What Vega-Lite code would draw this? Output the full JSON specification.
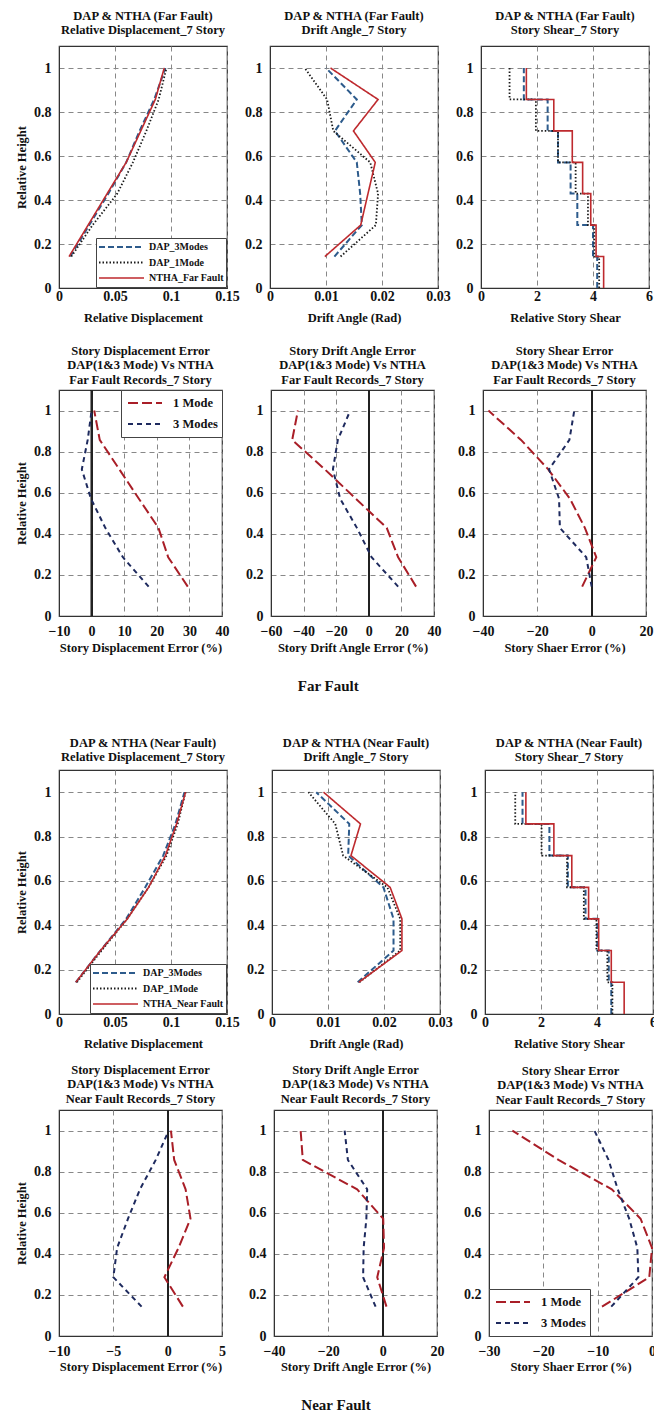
{
"$schema":"https://vega.github.io/schema/vega-lite/v6.json",
"padding":{"left":14,"top":8,"right":0,"bottom":0},
"background":"white",
"spacing":40,
"resolve":{"scale":{"color":"independent","strokeDash":"independent","strokeWidth":"independent"}},
"config":{
 "font":"Liberation Serif",
 "view":{"stroke":"#333","strokeWidth":1.2},
 "axis":{"labelFont":"Liberation Serif","labelFontWeight":"bold","labelFontSize":14,"labelColor":"#111","titleFont":"Liberation Serif","titleFontWeight":"bold","titleFontSize":12.5,"titleColor":"#111","grid":true,"gridDash":[5,4],"gridColor":"#888","gridWidth":1,"ticks":false,"domainColor":"#333","labelOverlap":false,"labelFlush":false,"format":"~f"},
 "axisX":{"labelOverlap":false},
 "axisY":{"labelPadding":8,"titlePadding":5},
 "title":{"font":"Liberation Serif","fontWeight":"bold","fontSize":12.5,"color":"#111","lineHeight":14,"anchor":"middle"},
 "legend":{"labelFont":"Liberation Serif","labelFontWeight":"bold","labelColor":"#111","fillColor":"white","strokeColor":"#444","symbolType":"stroke"}
},
"vconcat":[
{
 "title":{"text":"Far Fault","orient":"bottom","fontSize":15,"offset":25,"dx":-6},
 "spacing":19,
 "resolve":{"scale":{"color":"independent","strokeDash":"independent","strokeWidth":"independent"}},
 "vconcat":[
 {
  "bounds":"flush","spacing":43,
  "resolve":{"scale":{"color":"independent","strokeDash":"independent","strokeWidth":"independent"}},
  "hconcat":[
  {
   "width":168,"height":242,
   "title":{"text":["DAP & NTHA (Far Fault)","Relative Displacement_7 Story"],"offset":10},
   "data":{"values":[
    {"h":0.143,"v":0.010,"s":"DAP_3Modes"},{"h":0.286,"v":0.027,"s":"DAP_3Modes"},{"h":0.429,"v":0.044,"s":"DAP_3Modes"},{"h":0.571,"v":0.060,"s":"DAP_3Modes"},{"h":0.714,"v":0.072,"s":"DAP_3Modes"},{"h":0.857,"v":0.085,"s":"DAP_3Modes"},{"h":1,"v":0.095,"s":"DAP_3Modes"},
    {"h":0.143,"v":0.011,"s":"DAP_1Mode"},{"h":0.286,"v":0.030,"s":"DAP_1Mode"},{"h":0.429,"v":0.052,"s":"DAP_1Mode"},{"h":0.571,"v":0.066,"s":"DAP_1Mode"},{"h":0.714,"v":0.078,"s":"DAP_1Mode"},{"h":0.857,"v":0.089,"s":"DAP_1Mode"},{"h":1,"v":0.096,"s":"DAP_1Mode"},
    {"h":0.143,"v":0.009,"s":"NTHA_Far Fault"},{"h":0.286,"v":0.026,"s":"NTHA_Far Fault"},{"h":0.429,"v":0.043,"s":"NTHA_Far Fault"},{"h":0.571,"v":0.060,"s":"NTHA_Far Fault"},{"h":0.714,"v":0.073,"s":"NTHA_Far Fault"},{"h":0.857,"v":0.086,"s":"NTHA_Far Fault"},{"h":1,"v":0.094,"s":"NTHA_Far Fault"}
   ]},
   "mark":{"type":"line"},
   "encoding":{
    "x":{"field":"v","type":"quantitative","scale":{"domain":[0,0.15],"nice":false,"zero":false},"axis":{"values":[0,0.05,0.1,0.15],"title":"Relative Displacement","labelPadding":1,"titlePadding":8,"labelOverlap":false}},
    "y":{"field":"h","type":"quantitative","scale":{"domain":[0,1.1],"nice":false},"axis":{"values":[0,0.2,0.4,0.6,0.8,1],"title":"Relative Height"}},
    "order":{"field":"h","type":"quantitative"},
    "color":{"field":"s","type":"nominal","scale":{"domain":["DAP_3Modes","DAP_1Mode","NTHA_Far Fault"],"range":["#2D5B8C","#1a1a1a","#BE2A2E"]},"legend":{"title":null,"orient":"bottom-right","offset":1,"padding":2,"clipHeight":14,"rowPadding":1.5,"symbolSize":2025,"symbolOffset":0,"labelOffset":4,"labelFontSize":10}},
    "strokeDash":{"field":"s","type":"nominal","scale":{"domain":["DAP_3Modes","DAP_1Mode","NTHA_Far Fault"],"range":[[6,3],[1.5,2],[1,0]]},"legend":{"title":null,"orient":"bottom-right","offset":1,"padding":2,"clipHeight":14,"rowPadding":1.5,"symbolSize":2025,"symbolOffset":0,"labelOffset":4,"labelFontSize":10}},
    "strokeWidth":{"field":"s","type":"nominal","scale":{"domain":["DAP_3Modes","DAP_1Mode","NTHA_Far Fault"],"range":[2,1.6,2.2]},"legend":{"title":null,"orient":"bottom-right","offset":1,"padding":2,"clipHeight":14,"rowPadding":1.5,"symbolSize":2025,"symbolOffset":0,"labelOffset":4,"labelFontSize":10}}
   }
  },
  {
   "width":168,"height":242,
   "title":{"text":["DAP & NTHA (Far Fault)","Drift Angle_7 Story"],"offset":10},
   "data":{"values":[
    {"h":0.143,"v":0.0115,"s":"DAP_3Modes"},{"h":0.286,"v":0.0164,"s":"DAP_3Modes"},{"h":0.429,"v":0.0161,"s":"DAP_3Modes"},{"h":0.571,"v":0.0155,"s":"DAP_3Modes"},{"h":0.714,"v":0.0116,"s":"DAP_3Modes"},{"h":0.857,"v":0.0155,"s":"DAP_3Modes"},{"h":1,"v":0.0100,"s":"DAP_3Modes"},
    {"h":0.143,"v":0.0126,"s":"DAP_1Mode"},{"h":0.286,"v":0.0189,"s":"DAP_1Mode"},{"h":0.429,"v":0.0193,"s":"DAP_1Mode"},{"h":0.571,"v":0.0179,"s":"DAP_1Mode"},{"h":0.714,"v":0.0113,"s":"DAP_1Mode"},{"h":0.857,"v":0.0102,"s":"DAP_1Mode"},{"h":1,"v":0.0062,"s":"DAP_1Mode"},
    {"h":0.143,"v":0.0098,"s":"NTHA_Far Fault"},{"h":0.286,"v":0.0162,"s":"NTHA_Far Fault"},{"h":0.429,"v":0.0175,"s":"NTHA_Far Fault"},{"h":0.571,"v":0.0188,"s":"NTHA_Far Fault"},{"h":0.714,"v":0.0149,"s":"NTHA_Far Fault"},{"h":0.857,"v":0.0193,"s":"NTHA_Far Fault"},{"h":1,"v":0.0108,"s":"NTHA_Far Fault"}
   ]},
   "mark":{"type":"line"},
   "encoding":{
    "x":{"field":"v","type":"quantitative","scale":{"domain":[0,0.03],"nice":false,"zero":false},"axis":{"values":[0,0.01,0.02,0.03],"title":"Drift Angle (Rad)","labelPadding":1,"titlePadding":8,"labelOverlap":false}},
    "y":{"field":"h","type":"quantitative","scale":{"domain":[0,1.1],"nice":false},"axis":{"values":[0,0.2,0.4,0.6,0.8,1],"title":null}},
    "order":{"field":"h","type":"quantitative"},
    "color":{"field":"s","type":"nominal","scale":{"domain":["DAP_3Modes","DAP_1Mode","NTHA_Far Fault"],"range":["#2D5B8C","#1a1a1a","#BE2A2E"]},"legend":null},
    "strokeDash":{"field":"s","type":"nominal","scale":{"domain":["DAP_3Modes","DAP_1Mode","NTHA_Far Fault"],"range":[[6,3],[1.5,2],[1,0]]},"legend":null},
    "strokeWidth":{"field":"s","type":"nominal","scale":{"domain":["DAP_3Modes","DAP_1Mode","NTHA_Far Fault"],"range":[2,1.6,2.2]},"legend":null}
   }
  },
  {
   "width":168,"height":242,
   "title":{"text":["DAP & NTHA (Far Fault)","Story Shear_7 Story"],"offset":10},
   "data":{"values":[
    {"h":0,"v":4.15,"s":"DAP_3Modes"},{"h":0.143,"v":4.15,"s":"DAP_3Modes"},{"h":0.286,"v":4.0,"s":"DAP_3Modes"},{"h":0.429,"v":3.44,"s":"DAP_3Modes"},{"h":0.571,"v":3.2,"s":"DAP_3Modes"},{"h":0.714,"v":2.75,"s":"DAP_3Modes"},{"h":0.857,"v":2.38,"s":"DAP_3Modes"},{"h":1,"v":1.53,"s":"DAP_3Modes"},
    {"h":0,"v":4.22,"s":"DAP_1Mode"},{"h":0.143,"v":4.22,"s":"DAP_1Mode"},{"h":0.286,"v":4.05,"s":"DAP_1Mode"},{"h":0.429,"v":3.82,"s":"DAP_1Mode"},{"h":0.571,"v":3.38,"s":"DAP_1Mode"},{"h":0.714,"v":2.75,"s":"DAP_1Mode"},{"h":0.857,"v":1.96,"s":"DAP_1Mode"},{"h":1,"v":1.02,"s":"DAP_1Mode"},
    {"h":0,"v":4.38,"s":"NTHA_Far Fault"},{"h":0.143,"v":4.38,"s":"NTHA_Far Fault"},{"h":0.286,"v":4.11,"s":"NTHA_Far Fault"},{"h":0.429,"v":3.92,"s":"NTHA_Far Fault"},{"h":0.571,"v":3.63,"s":"NTHA_Far Fault"},{"h":0.714,"v":3.26,"s":"NTHA_Far Fault"},{"h":0.857,"v":2.6,"s":"NTHA_Far Fault"},{"h":1,"v":1.62,"s":"NTHA_Far Fault"}
   ]},
   "mark":{"type":"line","interpolate":"step-after"},
   "encoding":{
    "x":{"field":"v","type":"quantitative","scale":{"domain":[0,6],"nice":false,"zero":false},"axis":{"values":[0,2,4,6],"title":"Relative Story Shear","labelPadding":1,"titlePadding":8,"labelOverlap":false}},
    "y":{"field":"h","type":"quantitative","scale":{"domain":[0,1.1],"nice":false},"axis":{"values":[0,0.2,0.4,0.6,0.8,1],"title":null}},
    "order":{"field":"h","type":"quantitative"},
    "color":{"field":"s","type":"nominal","scale":{"domain":["DAP_3Modes","DAP_1Mode","NTHA_Far Fault"],"range":["#2D5B8C","#1a1a1a","#BE2A2E"]},"legend":null},
    "strokeDash":{"field":"s","type":"nominal","scale":{"domain":["DAP_3Modes","DAP_1Mode","NTHA_Far Fault"],"range":[[6,3],[1.5,2],[1,0]]},"legend":null},
    "strokeWidth":{"field":"s","type":"nominal","scale":{"domain":["DAP_3Modes","DAP_1Mode","NTHA_Far Fault"],"range":[2,1.6,2.2]},"legend":null}
   }
  }
  ]
 },
 {
  "bounds":"flush","spacing":49,
  "resolve":{"scale":{"color":"independent","strokeDash":"independent","strokeWidth":"independent"}},
  "hconcat":[
  {
   "width":163,"height":226,
   "title":{"text":["Story Displacement Error","DAP(1&3 Mode) Vs NTHA","Far Fault Records_7 Story"],"offset":3,"lineHeight":14.5},
   "data":{"values":[
    {"h":0.143,"v":29.5,"s":"1 Mode"},{"h":0.286,"v":23.5,"s":"1 Mode"},{"h":0.429,"v":20.5,"s":"1 Mode"},{"h":0.571,"v":14.5,"s":"1 Mode"},{"h":0.714,"v":8.5,"s":"1 Mode"},{"h":0.857,"v":2.5,"s":"1 Mode"},{"h":1,"v":0.8,"s":"1 Mode"},
    {"h":0.143,"v":17.5,"s":"3 Modes"},{"h":0.286,"v":9.6,"s":"3 Modes"},{"h":0.429,"v":4.2,"s":"3 Modes"},{"h":0.571,"v":-0.2,"s":"3 Modes"},{"h":0.714,"v":-3,"s":"3 Modes"},{"h":0.857,"v":-1.2,"s":"3 Modes"},{"h":1,"v":0,"s":"3 Modes"}
   ]},
   "layer":[
    {"mark":{"type":"rule","color":"#222","strokeWidth":1.3},"encoding":{"x":{"datum":0,"type":"quantitative","axis":{"values":[-10,0,10,20,30,40],"title":"Story Displacement Error (%)","labelPadding":8,"titlePadding":3,"labelOverlap":false}}}},
    {"mark":{"type":"line"},
     "encoding":{
      "x":{"field":"v","type":"quantitative","scale":{"domain":[-10,40],"nice":false,"zero":false},"axis":{"values":[-10,0,10,20,30,40],"title":"Story Displacement Error (%)","labelPadding":8,"titlePadding":3,"labelOverlap":false}},
      "y":{"field":"h","type":"quantitative","scale":{"domain":[0,1.1],"nice":false},"axis":{"values":[0,0.2,0.4,0.6,0.8,1],"title":"Relative Height"}},
      "order":{"field":"h","type":"quantitative"},
      "color":{"field":"s","type":"nominal","scale":{"domain":["1 Mode","3 Modes"],"range":["#A91E27","#1E2A5E"]},"legend":{"title":null,"orient":"top-right","offset":0,"padding":4,"clipHeight":18,"rowPadding":3,"symbolSize":1156,"symbolOffset":2,"labelOffset":10,"labelFontSize":12.5}},
      "strokeDash":{"field":"s","type":"nominal","scale":{"domain":["1 Mode","3 Modes"],"range":[[10,4],[5,4]]},"legend":{"title":null,"orient":"top-right","offset":0,"padding":4,"clipHeight":18,"rowPadding":3,"symbolSize":1156,"symbolOffset":2,"labelOffset":10,"labelFontSize":12.5}},
      "strokeWidth":{"field":"s","type":"nominal","scale":{"domain":["1 Mode","3 Modes"],"range":[2,2]},"legend":{"title":null,"orient":"top-right","offset":0,"padding":4,"clipHeight":18,"rowPadding":3,"symbolSize":1156,"symbolOffset":2,"labelOffset":10,"labelFontSize":12.5}}
     }}
   ]
  },
  {
   "width":163,"height":226,
   "title":{"text":["Story Drift Angle Error","DAP(1&3 Mode) Vs NTHA","Far Fault Records_7 Story"],"offset":3,"lineHeight":14.5},
   "data":{"values":[
    {"h":0.143,"v":29,"s":"1 Mode"},{"h":0.286,"v":18,"s":"1 Mode"},{"h":0.429,"v":11,"s":"1 Mode"},{"h":0.571,"v":-8,"s":"1 Mode"},{"h":0.714,"v":-27,"s":"1 Mode"},{"h":0.857,"v":-47,"s":"1 Mode"},{"h":1,"v":-43.5,"s":"1 Mode"},
    {"h":0.143,"v":18,"s":"3 Modes"},{"h":0.286,"v":1.7,"s":"3 Modes"},{"h":0.429,"v":-7.3,"s":"3 Modes"},{"h":0.571,"v":-17.6,"s":"3 Modes"},{"h":0.714,"v":-22,"s":"3 Modes"},{"h":0.857,"v":-19,"s":"3 Modes"},{"h":1,"v":-11.4,"s":"3 Modes"}
   ]},
   "layer":[
    {"mark":{"type":"rule","color":"#222","strokeWidth":1.3},"encoding":{"x":{"datum":0,"type":"quantitative","axis":{"values":[-60,-40,-20,0,20,40],"title":"Story Drift Angle Error (%)","labelPadding":8,"titlePadding":3,"labelOverlap":false}}}},
    {"mark":{"type":"line"},
     "encoding":{
      "x":{"field":"v","type":"quantitative","scale":{"domain":[-60,40],"nice":false,"zero":false},"axis":{"values":[-60,-40,-20,0,20,40],"title":"Story Drift Angle Error (%)","labelPadding":8,"titlePadding":3,"labelOverlap":false}},
      "y":{"field":"h","type":"quantitative","scale":{"domain":[0,1.1],"nice":false},"axis":{"values":[0,0.2,0.4,0.6,0.8,1],"title":null}},
      "order":{"field":"h","type":"quantitative"},
      "color":{"field":"s","type":"nominal","scale":{"domain":["1 Mode","3 Modes"],"range":["#A91E27","#1E2A5E"]},"legend":null},
      "strokeDash":{"field":"s","type":"nominal","scale":{"domain":["1 Mode","3 Modes"],"range":[[10,4],[5,4]]},"legend":null},
      "strokeWidth":{"field":"s","type":"nominal","scale":{"domain":["1 Mode","3 Modes"],"range":[2,2]},"legend":null}
     }}
   ]
  },
  {
   "width":163,"height":226,
   "title":{"text":["Story Shear Error","DAP(1&3 Mode) Vs NTHA","Far Fault Records_7 Story"],"offset":3,"lineHeight":14.5},
   "data":{"values":[
    {"h":0.143,"v":-3.5,"s":"1 Mode"},{"h":0.286,"v":1.7,"s":"1 Mode"},{"h":0.429,"v":-2.5,"s":"1 Mode"},{"h":0.571,"v":-8,"s":"1 Mode"},{"h":0.714,"v":-16,"s":"1 Mode"},{"h":0.857,"v":-26,"s":"1 Mode"},{"h":1,"v":-38,"s":"1 Mode"},
    {"h":0.143,"v":0,"s":"3 Modes"},{"h":0.286,"v":-2,"s":"3 Modes"},{"h":0.429,"v":-11.7,"s":"3 Modes"},{"h":0.571,"v":-12,"s":"3 Modes"},{"h":0.714,"v":-15.7,"s":"3 Modes"},{"h":0.857,"v":-8.2,"s":"3 Modes"},{"h":1,"v":-6.4,"s":"3 Modes"}
   ]},
   "layer":[
    {"mark":{"type":"rule","color":"#222","strokeWidth":1.3},"encoding":{"x":{"datum":0,"type":"quantitative","axis":{"values":[-40,-20,0,20],"title":"Story Shaer Error (%)","labelPadding":8,"titlePadding":3,"labelOverlap":false}}}},
    {"mark":{"type":"line"},
     "encoding":{
      "x":{"field":"v","type":"quantitative","scale":{"domain":[-40,20],"nice":false,"zero":false},"axis":{"values":[-40,-20,0,20],"title":"Story Shaer Error (%)","labelPadding":8,"titlePadding":3,"labelOverlap":false}},
      "y":{"field":"h","type":"quantitative","scale":{"domain":[0,1.1],"nice":false},"axis":{"values":[0,0.2,0.4,0.6,0.8,1],"title":null}},
      "order":{"field":"h","type":"quantitative"},
      "color":{"field":"s","type":"nominal","scale":{"domain":["1 Mode","3 Modes"],"range":["#A91E27","#1E2A5E"]},"legend":null},
      "strokeDash":{"field":"s","type":"nominal","scale":{"domain":["1 Mode","3 Modes"],"range":[[10,4],[5,4]]},"legend":null},
      "strokeWidth":{"field":"s","type":"nominal","scale":{"domain":["1 Mode","3 Modes"],"range":[2,2]},"legend":null}
     }}
   ]
  }
  ]
 }
 ]
},
{
 "title":{"text":"Near Fault","orient":"bottom","fontSize":15,"offset":25},
 "spacing":12,
 "resolve":{"scale":{"color":"independent","strokeDash":"independent","strokeWidth":"independent"}},
 "vconcat":[
 {
  "bounds":"flush","spacing":45,
  "resolve":{"scale":{"color":"independent","strokeDash":"independent","strokeWidth":"independent"}},
  "hconcat":[
  {
   "width":168,"height":244,
   "title":{"text":["DAP & NTHA (Near Fault)","Relative Displacement_7 Story"],"offset":7},
   "data":{"values":[
    {"h":0.143,"v":0.015,"s":"DAP_3Modes"},{"h":0.286,"v":0.037,"s":"DAP_3Modes"},{"h":0.429,"v":0.060,"s":"DAP_3Modes"},{"h":0.571,"v":0.077,"s":"DAP_3Modes"},{"h":0.714,"v":0.093,"s":"DAP_3Modes"},{"h":0.857,"v":0.104,"s":"DAP_3Modes"},{"h":1,"v":0.112,"s":"DAP_3Modes"},
    {"h":0.143,"v":0.016,"s":"DAP_1Mode"},{"h":0.286,"v":0.038,"s":"DAP_1Mode"},{"h":0.429,"v":0.061,"s":"DAP_1Mode"},{"h":0.571,"v":0.080,"s":"DAP_1Mode"},{"h":0.714,"v":0.096,"s":"DAP_1Mode"},{"h":0.857,"v":0.106,"s":"DAP_1Mode"},{"h":1,"v":0.113,"s":"DAP_1Mode"},
    {"h":0.143,"v":0.015,"s":"NTHA_Near Fault"},{"h":0.286,"v":0.037,"s":"NTHA_Near Fault"},{"h":0.429,"v":0.061,"s":"NTHA_Near Fault"},{"h":0.571,"v":0.080,"s":"NTHA_Near Fault"},{"h":0.714,"v":0.095,"s":"NTHA_Near Fault"},{"h":0.857,"v":0.105,"s":"NTHA_Near Fault"},{"h":1,"v":0.113,"s":"NTHA_Near Fault"}
   ]},
   "mark":{"type":"line"},
   "encoding":{
    "x":{"field":"v","type":"quantitative","scale":{"domain":[0,0.15],"nice":false,"zero":false},"axis":{"values":[0,0.05,0.1,0.15],"title":"Relative Displacement","labelPadding":1,"titlePadding":8,"labelOverlap":false}},
    "y":{"field":"h","type":"quantitative","scale":{"domain":[0,1.1],"nice":false},"axis":{"values":[0,0.2,0.4,0.6,0.8,1],"title":"Relative Height"}},
    "order":{"field":"h","type":"quantitative"},
    "color":{"field":"s","type":"nominal","scale":{"domain":["DAP_3Modes","DAP_1Mode","NTHA_Near Fault"],"range":["#2D5B8C","#1a1a1a","#BE2A2E"]},"legend":{"title":null,"orient":"bottom-right","offset":1,"padding":2,"clipHeight":14,"rowPadding":1.5,"symbolSize":2025,"symbolOffset":0,"labelOffset":4,"labelFontSize":10}},
    "strokeDash":{"field":"s","type":"nominal","scale":{"domain":["DAP_3Modes","DAP_1Mode","NTHA_Near Fault"],"range":[[6,3],[1.5,2],[1,0]]},"legend":{"title":null,"orient":"bottom-right","offset":1,"padding":2,"clipHeight":14,"rowPadding":1.5,"symbolSize":2025,"symbolOffset":0,"labelOffset":4,"labelFontSize":10}},
    "strokeWidth":{"field":"s","type":"nominal","scale":{"domain":["DAP_3Modes","DAP_1Mode","NTHA_Near Fault"],"range":[2,1.6,2.2]},"legend":{"title":null,"orient":"bottom-right","offset":1,"padding":2,"clipHeight":14,"rowPadding":1.5,"symbolSize":2025,"symbolOffset":0,"labelOffset":4,"labelFontSize":10}}
   }
  },
  {
   "width":168,"height":244,
   "title":{"text":["DAP & NTHA (Near Fault)","Drift Angle_7 Story"],"offset":7},
   "data":{"values":[
    {"h":0.143,"v":0.0153,"s":"DAP_3Modes"},{"h":0.286,"v":0.0217,"s":"DAP_3Modes"},{"h":0.429,"v":0.0217,"s":"DAP_3Modes"},{"h":0.571,"v":0.0199,"s":"DAP_3Modes"},{"h":0.714,"v":0.0136,"s":"DAP_3Modes"},{"h":0.857,"v":0.0138,"s":"DAP_3Modes"},{"h":1,"v":0.0079,"s":"DAP_3Modes"},
    {"h":0.143,"v":0.0156,"s":"DAP_1Mode"},{"h":0.286,"v":0.0229,"s":"DAP_1Mode"},{"h":0.429,"v":0.0229,"s":"DAP_1Mode"},{"h":0.571,"v":0.0206,"s":"DAP_1Mode"},{"h":0.714,"v":0.0127,"s":"DAP_1Mode"},{"h":0.857,"v":0.0113,"s":"DAP_1Mode"},{"h":1,"v":0.0065,"s":"DAP_1Mode"},
    {"h":0.143,"v":0.0155,"s":"NTHA_Near Fault"},{"h":0.286,"v":0.0232,"s":"NTHA_Near Fault"},{"h":0.429,"v":0.0232,"s":"NTHA_Near Fault"},{"h":0.571,"v":0.0211,"s":"NTHA_Near Fault"},{"h":0.714,"v":0.0141,"s":"NTHA_Near Fault"},{"h":0.857,"v":0.0158,"s":"NTHA_Near Fault"},{"h":1,"v":0.0092,"s":"NTHA_Near Fault"}
   ]},
   "mark":{"type":"line"},
   "encoding":{
    "x":{"field":"v","type":"quantitative","scale":{"domain":[0,0.03],"nice":false,"zero":false},"axis":{"values":[0,0.01,0.02,0.03],"title":"Drift Angle (Rad)","labelPadding":1,"titlePadding":8,"labelOverlap":false}},
    "y":{"field":"h","type":"quantitative","scale":{"domain":[0,1.1],"nice":false},"axis":{"values":[0,0.2,0.4,0.6,0.8,1],"title":null}},
    "order":{"field":"h","type":"quantitative"},
    "color":{"field":"s","type":"nominal","scale":{"domain":["DAP_3Modes","DAP_1Mode","NTHA_Near Fault"],"range":["#2D5B8C","#1a1a1a","#BE2A2E"]},"legend":null},
    "strokeDash":{"field":"s","type":"nominal","scale":{"domain":["DAP_3Modes","DAP_1Mode","NTHA_Near Fault"],"range":[[6,3],[1.5,2],[1,0]]},"legend":null},
    "strokeWidth":{"field":"s","type":"nominal","scale":{"domain":["DAP_3Modes","DAP_1Mode","NTHA_Near Fault"],"range":[2,1.6,2.2]},"legend":null}
   }
  },
  {
   "width":168,"height":244,
   "title":{"text":["DAP & NTHA (Near Fault)","Story Shear_7 Story"],"offset":7},
   "data":{"values":[
    {"h":0,"v":4.51,"s":"DAP_3Modes"},{"h":0.143,"v":4.51,"s":"DAP_3Modes"},{"h":0.286,"v":4.42,"s":"DAP_3Modes"},{"h":0.429,"v":4.01,"s":"DAP_3Modes"},{"h":0.571,"v":3.59,"s":"DAP_3Modes"},{"h":0.714,"v":2.96,"s":"DAP_3Modes"},{"h":0.857,"v":2.3,"s":"DAP_3Modes"},{"h":1,"v":1.34,"s":"DAP_3Modes"},
    {"h":0,"v":4.55,"s":"DAP_1Mode"},{"h":0.143,"v":4.55,"s":"DAP_1Mode"},{"h":0.286,"v":4.37,"s":"DAP_1Mode"},{"h":0.429,"v":3.98,"s":"DAP_1Mode"},{"h":0.571,"v":3.53,"s":"DAP_1Mode"},{"h":0.714,"v":2.93,"s":"DAP_1Mode"},{"h":0.857,"v":2.02,"s":"DAP_1Mode"},{"h":1,"v":1.08,"s":"DAP_1Mode"},
    {"h":0,"v":4.97,"s":"NTHA_Near Fault"},{"h":0.143,"v":4.97,"s":"NTHA_Near Fault"},{"h":0.286,"v":4.51,"s":"NTHA_Near Fault"},{"h":0.429,"v":4.06,"s":"NTHA_Near Fault"},{"h":0.571,"v":3.7,"s":"NTHA_Near Fault"},{"h":0.714,"v":3.1,"s":"NTHA_Near Fault"},{"h":0.857,"v":2.46,"s":"NTHA_Near Fault"},{"h":1,"v":1.46,"s":"NTHA_Near Fault"}
   ]},
   "mark":{"type":"line","interpolate":"step-after"},
   "encoding":{
    "x":{"field":"v","type":"quantitative","scale":{"domain":[0,6],"nice":false,"zero":false},"axis":{"values":[0,2,4,6],"title":"Relative Story Shear","labelPadding":1,"titlePadding":8,"labelOverlap":false}},
    "y":{"field":"h","type":"quantitative","scale":{"domain":[0,1.1],"nice":false},"axis":{"values":[0,0.2,0.4,0.6,0.8,1],"title":null}},
    "order":{"field":"h","type":"quantitative"},
    "color":{"field":"s","type":"nominal","scale":{"domain":["DAP_3Modes","DAP_1Mode","NTHA_Near Fault"],"range":["#2D5B8C","#1a1a1a","#BE2A2E"]},"legend":null},
    "strokeDash":{"field":"s","type":"nominal","scale":{"domain":["DAP_3Modes","DAP_1Mode","NTHA_Near Fault"],"range":[[6,3],[1.5,2],[1,0]]},"legend":null},
    "strokeWidth":{"field":"s","type":"nominal","scale":{"domain":["DAP_3Modes","DAP_1Mode","NTHA_Near Fault"],"range":[2,1.6,2.2]},"legend":null}
   }
  }
  ]
 },
 {
  "bounds":"flush","spacing":52,
  "resolve":{"scale":{"color":"independent","strokeDash":"independent","strokeWidth":"independent"}},
  "hconcat":[
  {
   "width":163,"height":226,
   "title":{"text":["Story Displacement Error","DAP(1&3 Mode) Vs NTHA","Near Fault Records_7 Story"],"offset":4,"lineHeight":14.5},
   "data":{"values":[
    {"h":0.143,"v":1.4,"s":"1 Mode"},{"h":0.286,"v":-0.3,"s":"1 Mode"},{"h":0.429,"v":1.0,"s":"1 Mode"},{"h":0.571,"v":2.1,"s":"1 Mode"},{"h":0.714,"v":1.65,"s":"1 Mode"},{"h":0.857,"v":0.6,"s":"1 Mode"},{"h":1,"v":0.3,"s":"1 Mode"},
    {"h":0.143,"v":-2.4,"s":"3 Modes"},{"h":0.286,"v":-5,"s":"3 Modes"},{"h":0.429,"v":-4.65,"s":"3 Modes"},{"h":0.571,"v":-3.65,"s":"3 Modes"},{"h":0.714,"v":-2.55,"s":"3 Modes"},{"h":0.857,"v":-1.1,"s":"3 Modes"},{"h":1,"v":0.1,"s":"3 Modes"}
   ]},
   "layer":[
    {"mark":{"type":"rule","color":"#222","strokeWidth":1.3},"encoding":{"x":{"datum":0,"type":"quantitative","axis":{"values":[-10,-5,0,5],"title":"Story Displacement Error (%)","labelPadding":8,"titlePadding":2,"labelOverlap":false}}}},
    {"mark":{"type":"line"},
     "encoding":{
      "x":{"field":"v","type":"quantitative","scale":{"domain":[-10,5],"nice":false,"zero":false},"axis":{"values":[-10,-5,0,5],"title":"Story Displacement Error (%)","labelPadding":8,"titlePadding":2,"labelOverlap":false}},
      "y":{"field":"h","type":"quantitative","scale":{"domain":[0,1.1],"nice":false},"axis":{"values":[0,0.2,0.4,0.6,0.8,1],"title":"Relative Height"}},
      "order":{"field":"h","type":"quantitative"},
      "color":{"field":"s","type":"nominal","scale":{"domain":["1 Mode","3 Modes"],"range":["#A91E27","#1E2A5E"]},"legend":null},
      "strokeDash":{"field":"s","type":"nominal","scale":{"domain":["1 Mode","3 Modes"],"range":[[10,4],[5,4]]},"legend":null},
      "strokeWidth":{"field":"s","type":"nominal","scale":{"domain":["1 Mode","3 Modes"],"range":[2,2]},"legend":null}
     }}
   ]
  },
  {
   "width":163,"height":226,
   "title":{"text":["Story Drift Angle Error","DAP(1&3 Mode) Vs NTHA","Near Fault Records_7 Story"],"offset":4,"lineHeight":14.5},
   "data":{"values":[
    {"h":0.143,"v":1.4,"s":"1 Mode"},{"h":0.286,"v":-2,"s":"1 Mode"},{"h":0.429,"v":0.5,"s":"1 Mode"},{"h":0.571,"v":0.2,"s":"1 Mode"},{"h":0.714,"v":-9.4,"s":"1 Mode"},{"h":0.857,"v":-29.4,"s":"1 Mode"},{"h":1,"v":-30.2,"s":"1 Mode"},
    {"h":0.143,"v":-2.6,"s":"3 Modes"},{"h":0.286,"v":-7.2,"s":"3 Modes"},{"h":0.429,"v":-7,"s":"3 Modes"},{"h":0.571,"v":-6,"s":"3 Modes"},{"h":0.714,"v":-5.7,"s":"3 Modes"},{"h":0.857,"v":-12.8,"s":"3 Modes"},{"h":1,"v":-14,"s":"3 Modes"}
   ]},
   "layer":[
    {"mark":{"type":"rule","color":"#222","strokeWidth":1.3},"encoding":{"x":{"datum":0,"type":"quantitative","axis":{"values":[-40,-20,0,20],"title":"Story Drift Angle Error (%)","labelPadding":8,"titlePadding":2,"labelOverlap":false}}}},
    {"mark":{"type":"line"},
     "encoding":{
      "x":{"field":"v","type":"quantitative","scale":{"domain":[-40,20],"nice":false,"zero":false},"axis":{"values":[-40,-20,0,20],"title":"Story Drift Angle Error (%)","labelPadding":8,"titlePadding":2,"labelOverlap":false}},
      "y":{"field":"h","type":"quantitative","scale":{"domain":[0,1.1],"nice":false},"axis":{"values":[0,0.2,0.4,0.6,0.8,1],"title":null}},
      "order":{"field":"h","type":"quantitative"},
      "color":{"field":"s","type":"nominal","scale":{"domain":["1 Mode","3 Modes"],"range":["#A91E27","#1E2A5E"]},"legend":null},
      "strokeDash":{"field":"s","type":"nominal","scale":{"domain":["1 Mode","3 Modes"],"range":[[10,4],[5,4]]},"legend":null},
      "strokeWidth":{"field":"s","type":"nominal","scale":{"domain":["1 Mode","3 Modes"],"range":[2,2]},"legend":null}
     }}
   ]
  },
  {
   "width":163,"height":226,
   "title":{"text":["Story Shear Error","DAP(1&3 Mode) Vs NTHA","Near Fault Records_7 Story"],"offset":4,"lineHeight":14.5},
   "data":{"values":[
    {"h":0.143,"v":-9.2,"s":"1 Mode"},{"h":0.286,"v":-0.5,"s":"1 Mode"},{"h":0.429,"v":0,"s":"1 Mode"},{"h":0.571,"v":-2.1,"s":"1 Mode"},{"h":0.714,"v":-7.4,"s":"1 Mode"},{"h":0.857,"v":-17.2,"s":"1 Mode"},{"h":1,"v":-25.7,"s":"1 Mode"},
    {"h":0.143,"v":-7.5,"s":"3 Modes"},{"h":0.286,"v":-2.5,"s":"3 Modes"},{"h":0.429,"v":-2.7,"s":"3 Modes"},{"h":0.571,"v":-4.2,"s":"3 Modes"},{"h":0.714,"v":-6.3,"s":"3 Modes"},{"h":0.857,"v":-8,"s":"3 Modes"},{"h":1,"v":-10.6,"s":"3 Modes"}
   ]},
   "mark":{"type":"line"},
   "encoding":{
    "x":{"field":"v","type":"quantitative","scale":{"domain":[-30,0],"nice":false,"zero":false},"axis":{"values":[-30,-20,-10,0],"title":"Story Shaer Error (%)","labelPadding":8,"titlePadding":2,"labelOverlap":false}},
    "y":{"field":"h","type":"quantitative","scale":{"domain":[0,1.1],"nice":false},"axis":{"values":[0,0.2,0.4,0.6,0.8,1],"title":null}},
    "order":{"field":"h","type":"quantitative"},
    "color":{"field":"s","type":"nominal","scale":{"domain":["1 Mode","3 Modes"],"range":["#A91E27","#1E2A5E"]},"legend":{"title":null,"orient":"bottom-left","offset":0,"padding":4,"clipHeight":18,"rowPadding":3,"symbolSize":1156,"symbolOffset":2,"labelOffset":10,"labelFontSize":12.5}},
    "strokeDash":{"field":"s","type":"nominal","scale":{"domain":["1 Mode","3 Modes"],"range":[[10,4],[5,4]]},"legend":{"title":null,"orient":"bottom-left","offset":0,"padding":4,"clipHeight":18,"rowPadding":3,"symbolSize":1156,"symbolOffset":2,"labelOffset":10,"labelFontSize":12.5}},
    "strokeWidth":{"field":"s","type":"nominal","scale":{"domain":["1 Mode","3 Modes"],"range":[2,2]},"legend":{"title":null,"orient":"bottom-left","offset":0,"padding":4,"clipHeight":18,"rowPadding":3,"symbolSize":1156,"symbolOffset":2,"labelOffset":10,"labelFontSize":12.5}}
   }
  }
  ]
 }
 ]
}
]
}
